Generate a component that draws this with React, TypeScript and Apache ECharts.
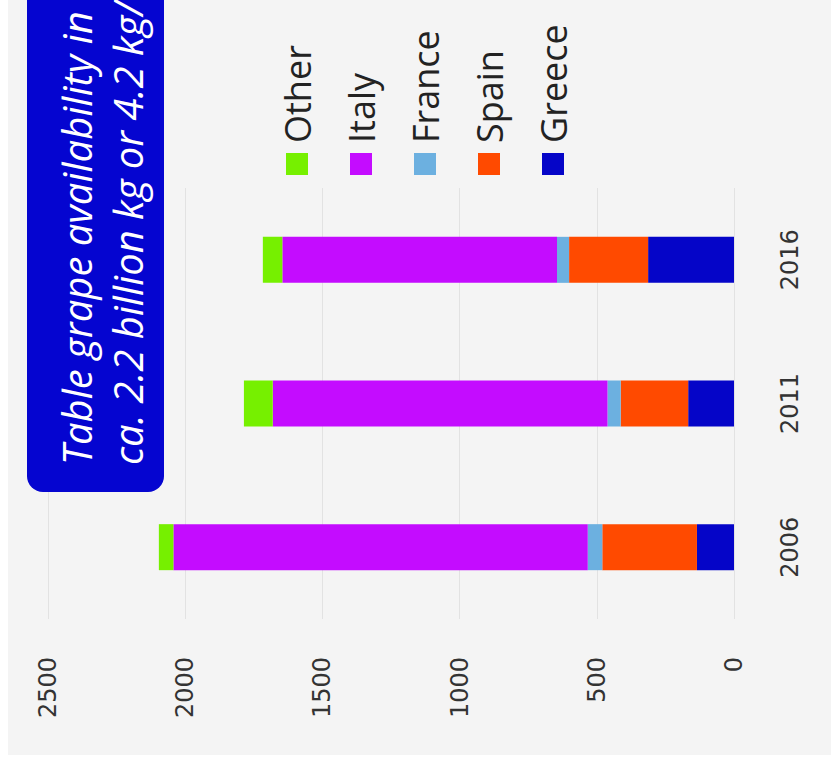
import React, { useEffect, useRef } from "react";
import * as echarts from "echarts";

const years = ["2006", "2011", "2016"];
const seriesNames = ["Greece", "Spain", "France", "Italy", "Other"];
const legendOrder = ["Other", "Italy", "France", "Spain", "Greece"];
const greece = [135, 167, 313];
const spain = [345, 246, 288];
const france = [53, 48, 44];
const italy = [1510, 1220, 1001];
const other = [53, 105, 71];
const colors = ["#0505c8", "#ff4a00", "#6cb0e0", "#c40cff", "#76f000"];
const titleLine1 = "Table grape availability in";
const titleLine2 = "ca. 2.2 billion kg or 4.2 kg/";

export default function App() {
  const ref = useRef<HTMLDivElement>(null);
  useEffect(() => {
    const chart = echarts.init(ref.current!, null, { renderer: "svg" });
    const values = [greece, spain, france, italy, other];
    chart.setOption({
      animation: false,
      backgroundColor: "#f4f4f4",
      grid: { left: 136, right: 188, top: 40, bottom: 97 },
      legend: {
        data: legendOrder,
        orient: "vertical",
        left: 575,
        top: 266,
        itemWidth: 22,
        itemHeight: 22,
        itemGap: 28,
        icon: "rect",
        textStyle: { fontSize: 36, fontFamily: "Open Sans", color: "#222", padding: [0, 0, 0, 5] },
      },
      xAxis: {
        type: "category",
        data: years,
        axisLine: { show: false },
        axisTick: { show: false },
        axisLabel: { fontSize: 24, fontFamily: "DejaVu Sans", color: "#333", margin: 44 },
      },
      yAxis: {
        type: "value",
        min: 0,
        max: 2500,
        interval: 500,
        splitLine: { lineStyle: { color: "#e2e2e2", width: 1 } },
        axisLabel: {
          fontSize: 24,
          fontFamily: "DejaVu Sans",
          color: "#333",
          margin: 38,
          formatter: (v: number) => String(v),
        },
      },
      series: seriesNames.map((name, i) => ({
        name,
        type: "bar",
        stack: "total",
        barWidth: 46,
        itemStyle: { color: colors[i] },
        data: values[i],
      })),
      graphic: [
        {
          type: "rect",
          z: 100,
          zlevel: 1,
          shape: { x: 263, y: 19, width: 560, height: 137, r: [16, 0, 0, 16] },
          style: { fill: "#0505d0" },
        },
        {
          type: "text",
          z: 101,
          zlevel: 1,
          x: 290,
          y: 68,
          style: { text: titleLine1, fill: "#fff", font: "italic 40px 'Open Sans'", verticalAlign: "middle" },
        },
        {
          type: "text",
          z: 101,
          zlevel: 1,
          x: 290,
          y: 119,
          style: { text: titleLine2, fill: "#fff", font: "italic 40px 'Open Sans'", verticalAlign: "middle" },
        },
      ],
    });
    return () => chart.dispose();
  }, []);
  return (
    <div style={{ position: "fixed", left: 0, top: 0, width: 831, height: 764, background: "#fff", overflow: "hidden" }}>
      <div
        ref={ref}
        style={{
          position: "absolute",
          left: 0,
          top: 0,
          width: 755,
          height: 823,
          transformOrigin: "0 0",
          transform: "translate(8px, 755px) rotate(-90deg)",
        }}
      />
    </div>
  );
}
